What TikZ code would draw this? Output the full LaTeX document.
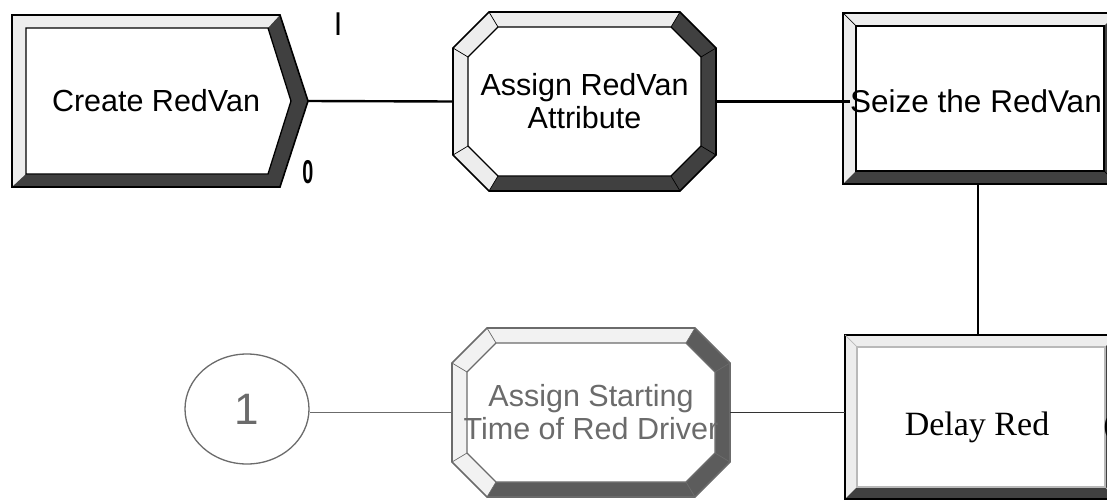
\documentclass[tikz,border=0pt]{standalone}
\usepackage{fontspec}
\setmainfont{Liberation Sans}
\newfontfamily\tnr{Liberation Serif}
\usetikzlibrary{calc,shapes.geometric}
\definecolor{darkbevel}{gray}{0.25}
\definecolor{lightbevel}{gray}{0.93}
\definecolor{faded}{gray}{0.42}
\definecolor{fadeddark}{gray}{0.36}
\definecolor{fadedlight}{gray}{0.95}

% octagon module: L T R B chamfer bevel linecolour darkcolour lightcolour
\newcommand{\octmod}[9]{%
 \coordinate (o1) at ({#1+#5},#2);
 \coordinate (o2) at ({#3-#5},#2);
 \coordinate (o3) at (#3,{#2+#5});
 \coordinate (o4) at (#3,{#4-#5});
 \coordinate (o5) at ({#3-#5},#4);
 \coordinate (o6) at ({#1+#5},#4);
 \coordinate (o7) at (#1,{#4-#5});
 \coordinate (o8) at (#1,{#2+#5});
 \coordinate (i1) at ({#1+#5+0.6*#6},{#2+#6});
 \coordinate (i2) at ({#3-#5-0.6*#6},{#2+#6});
 \coordinate (i3) at ({#3-#6},{#2+#5+0.6*#6});
 \coordinate (i4) at ({#3-#6},{#4-#5-0.6*#6});
 \coordinate (i5) at ({#3-#5-0.6*#6},{#4-#6});
 \coordinate (i6) at ({#1+#5+0.6*#6},{#4-#6});
 \coordinate (i7) at ({#1+#6},{#4-#5-0.6*#6});
 \coordinate (i8) at ({#1+#6},{#2+#5+0.6*#6});
 \fill[#9] (o1)--(o2)--(o3)--(o4)--(o5)--(o6)--(o7)--(o8)--cycle;
 \fill[#8] (o2)--(o3)--(o4)--(o5)--(o6)--(i6)--(i5)--(i4)--(i3)--(i2)--cycle;
 \filldraw[fill=white,draw=#7,line width=1.3pt] (i1)--(i2)--(i3)--(i4)--(i5)--(i6)--(i7)--(i8)--cycle;
 \draw[#7,line width=1.6pt] (o1)--(o2)--(o3)--(o4)--(o5)--(o6)--(o7)--(o8)--cycle;
 \foreach \k in {1,...,8} {\draw[#7,line width=0.7pt] (o\k)--(i\k);}
}

% rectangle module: L T R B bevel outercolour innercolour darkcolour lightcolour
\newcommand{\boxmod}[9]{%
 \fill[#9] (#1,#2) rectangle (#3,#4);
 \fill[#8] (#3,#2) -- (#3,#4) -- (#1,#4) -- ({#1+#5},{#4-#5}) -- ({#3-#5},{#4-#5}) -- ({#3-#5},{#2+#5}) -- cycle;
 \filldraw[fill=white,draw=#7,line width=1.2pt] ({#1+#5},{#2+#5}) rectangle ({#3-#5},{#4-#5});
 \draw[#6,line width=1.6pt] (#1,#2) rectangle (#3,#4);
 \draw[#7,line width=0.7pt] (#1,#2) -- ({#1+#5},{#2+#5}) (#3,#4) -- ({#3-#5},{#4-#5});
}

\tikzset{
  modtext/.style={draw=none, inner sep=0pt, align=center, font=\fontsize{30.5}{33}\selectfont},
  outline/.style={draw=none, inner sep=0pt, rectangle},
  conn/.style={line width=2.4pt, black},
  fadedconn/.style={line width=1.8pt, faded},
  tag/.style={inner sep=0pt, font=\bfseries\fontsize{33}{33}\selectfont}
}

\begin{document}
\begin{tikzpicture}[x=1pt,y=-1pt]
\useasboundingbox (0,0) rectangle (1107,501);
\clip (0,0) rectangle (1107,501);
\fill[white] (0,0) rectangle (1107,501);

% ---- Create RedVan (pentagon)
\fill[lightbevel] (12,15) -- (280,15) -- (308,101) -- (280,187) -- (12,187) -- cycle;
\fill[darkbevel] (280,15) -- (308,101) -- (280,187) -- (12,187) -- (26,174) -- (268,174) -- (291,101) -- (268,28) -- cycle;
\filldraw[fill=white,draw=black,line width=1.3pt] (26,28) -- (268,28) -- (291,101) -- (268,174) -- (26,174) -- cycle;
\draw[black,line width=1.6pt] (12,15) -- (280,15) -- (308,101) -- (280,187) -- (12,187) -- cycle;
\node[modtext, minimum width=296pt, minimum height=172pt] (create) at (160,101) {\hspace*{-8pt}Create RedVan};
\node[tag, xscale=0.6, transform shape] (lblI) at (338,24) {I};
\node[tag, xscale=0.6, transform shape] (lblO) at (308,172) {0};

% ---- Assign RedVan Attribute (octagon)
\octmod{453}{12}{716}{191}{36}{15}{black}{darkbevel}{lightbevel}
\node[modtext, minimum width=263pt, minimum height=179pt] (assign1) at (584.5,101.5) {Assign RedVan\\Attribute};

% ---- Seize the RedVan (box)
\boxmod{843}{13}{1117}{184}{13}{black}{black}{darkbevel}{lightbevel}
\node[outline, minimum width=274pt, minimum height=171pt] (seizebox) at (980,98.5) {};
\node[modtext, anchor=west, font=\fontsize{31.5}{33}\selectfont] (seize) at (850,101) {Seize the RedVan};

% ---- Delay Red (box)
\boxmod{845}{335}{1117}{499}{12}{black}{gray!55}{darkbevel}{lightbevel}
\node[outline, minimum width=272pt, minimum height=164pt] (delaybox) at (981,417) {};
\node[inner sep=0pt, font=\tnr\fontsize{34}{34}\selectfont] (delay) at (977,427) {Delay Red};
\node[inner sep=0pt, font=\tnr\fontsize{34}{34}\selectfont] (lblO2) at (1112,427) {0};

% ---- Assign Starting Time of Red Driver (octagon, faded)
\octmod{452}{328}{730}{497}{35}{15}{faded}{fadeddark}{fadedlight}
\node[modtext, text=faded, minimum width=278pt, minimum height=169pt] (assign2) at (591,412.5) {Assign Starting\\Time of Red Driver};

% ---- connector circle 1
\node[ellipse, draw=faded, line width=1.3pt, minimum width=124pt, minimum height=110pt, inner sep=0pt,
      text=faded, font=\fontsize{44}{44}\selectfont] (c1) at (247,409) {1};

% ---- connectors
\draw[conn] (create.east) -- (assign1.west);
\draw[conn] (assign1.east) -- (assign1.east -| seize.west);
\draw[line width=2.8pt] ([xshift=-2pt]seizebox.south) -- ([xshift=-2pt]seizebox.south |- delaybox.north);
\draw[fadedconn, black!80] (delaybox.west |- assign2.east) -- (assign2.east);
\draw[fadedconn] (assign2.west) -- (assign2.west -| c1.east);
\end{tikzpicture}
\end{document}
